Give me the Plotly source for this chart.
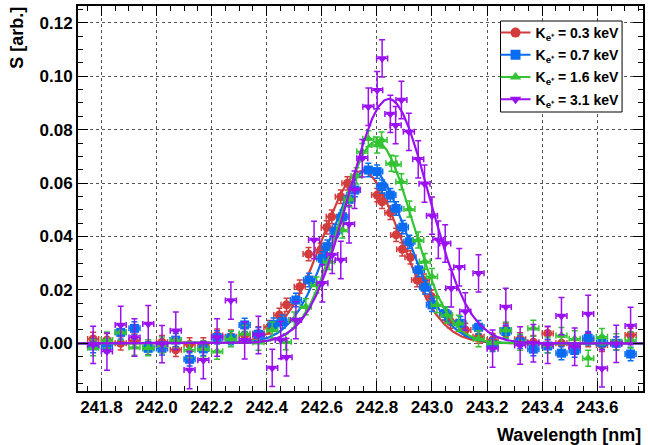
import numpy as np
import plotly.graph_objects as go

# ---------------- data ----------------
labels = ["K<sub>e⁺</sub> = 0.3 keV", "K<sub>e⁺</sub> = 0.7 keV",
          "K<sub>e⁺</sub> = 1.6 keV", "K<sub>e⁺</sub> = 3.1 keV"]

red_x = [241.77, 241.82, 241.87, 241.92, 241.97, 242.02, 242.07, 242.12, 242.17, 242.22,
         242.27, 242.32, 242.37, 242.41, 242.446, 242.472, 242.52, 242.552, 242.596, 242.618,
         242.636, 242.669, 242.693, 242.801, 242.819, 242.849, 242.870, 242.892, 242.922, 242.946,
         242.970, 242.998, 243.048, 243.067, 243.121, 243.169, 243.22, 243.268, 243.32, 243.368,
         243.42, 243.47, 243.518, 243.567, 243.617, 243.669, 243.721]
red_y = [0.0016, 0.0012, 0.0000, 0.0010, -0.0017, 0.0004, -0.0024, -0.0004, -0.0004, 0.0029,
         0.0025, 0.0030, 0.0037, 0.0060, 0.0106, 0.0144, 0.0212, 0.0334, 0.0350, 0.0434,
         0.0474, 0.0549, 0.0599, 0.0555, 0.0530, 0.0489, 0.0406, 0.0352, 0.0322, 0.0237,
         0.0235, 0.0175, 0.0112, 0.0081, 0.0050, 0.0025, 0.0012, 0.0050, 0.0015, 0.0004,
         0.0037, 0.0000, -0.0010, 0.0012, -0.0006, 0.0000, 0.0031]

blue_x = [241.77, 241.82, 241.87, 241.92, 241.97, 242.02, 242.07, 242.12, 242.17, 242.22,
          242.27, 242.32, 242.37, 242.425, 242.458, 242.506, 242.554, 242.602, 242.620, 242.650,
          242.675, 242.699, 242.720, 242.769, 242.801, 242.819, 242.849, 242.870, 242.894, 242.918,
          242.952, 242.975, 243.000, 243.048, 243.103, 243.169, 243.22, 243.268, 243.32, 243.368,
          243.42, 243.47, 243.518, 243.567, 243.617, 243.669, 243.721]
blue_y = [-0.0010, -0.0010, 0.0041, 0.0056, -0.0019, -0.0019, 0.0012, -0.0060, -0.0021, 0.0022,
          0.0020, 0.0069, 0.0034, 0.0070, 0.0081, 0.0162, 0.0237, 0.0318, 0.0362, 0.0420,
          0.0474, 0.0539, 0.0574, 0.0649, 0.0643, 0.0587, 0.0555, 0.0505, 0.0435, 0.0380,
          0.0275, 0.0210, 0.0144, 0.0112, 0.0075, 0.0060, -0.0006, 0.0044, 0.0006, -0.0022,
          -0.0010, -0.0037, -0.0027, 0.0019, 0.0002, 0.0000, -0.0040]

green_x = [241.77, 241.82, 241.87, 241.92, 241.97, 242.02, 242.07, 242.12, 242.17, 242.22,
           242.27, 242.32, 242.37, 242.42, 242.469, 242.500, 242.542, 242.581, 242.626, 242.675,
           242.701, 242.726, 242.747, 242.769, 242.801, 242.817, 242.853, 242.868, 242.889, 242.918,
           242.950, 242.974, 243.000, 243.018, 243.054, 243.097, 243.169, 243.22, 243.268, 243.32,
           243.368, 243.42, 243.47, 243.518, 243.567, 243.617, 243.669, 243.721]
green_y = [-0.0017, 0.0012, 0.0041, -0.0015, -0.0017, -0.0006, 0.0012, -0.0024, -0.0020, -0.0030,
           0.0017, 0.0037, 0.0004, 0.0050, 0.0006, 0.0087, 0.0137, 0.0218, 0.0306, 0.0424,
           0.0540, 0.0627, 0.0718, 0.0766, 0.0743, 0.0761, 0.0674, 0.0671, 0.0605, 0.0503,
           0.0387, 0.0306, 0.0250, 0.0144, 0.0106, 0.0075, 0.0017, 0.0002, 0.0050, 0.0004,
           0.0056, -0.0006, 0.0029, 0.0017, -0.0056, 0.0025, 0.0006, 0.0012]

purple_x = [241.77, 241.82, 241.87, 241.92, 241.97, 242.02, 242.07, 242.12, 242.17, 242.22,
            242.27, 242.32, 242.37, 242.42, 242.451, 242.472, 242.506, 242.572, 242.602, 242.638,
            242.669, 242.699, 242.719, 242.747, 242.769, 242.801, 242.819, 242.849, 242.868, 242.889,
            242.916, 242.950, 242.973, 243.000, 243.023, 243.048, 243.070, 243.099, 243.121, 243.169,
            243.220, 243.268, 243.320, 243.368, 243.420, 243.470, 243.518, 243.567, 243.617, 243.669,
            243.721]
purple_y = [-0.0006, -0.0031, 0.0069, 0.0022, 0.0072, -0.0003, 0.0047, -0.0100, -0.0063, 0.0022,
            0.0160, 0.0011, 0.0031, -0.0092, 0.0012, -0.0052, 0.0087, 0.0387, 0.0225, 0.0331,
            0.0312, 0.0446, 0.0575, 0.0693, 0.0886, 0.0948, 0.1067, 0.0859, 0.0817, 0.0911,
            0.0792, 0.0689, 0.0598, 0.0478, 0.0388, 0.0374, 0.0206, 0.0285, 0.0119, 0.0262,
            -0.0020, 0.0136, -0.0008, 0.0000, -0.0006, 0.0102, -0.0013, 0.0110, -0.0094, -0.0002,
            0.0065]

# vertical errors (per series), horizontal half-width
y_errors = [0.0025, 0.0025, 0.003, 0.007]
x_halfwidth = 0.02

# Gaussian fit parameters: amplitude, mean, sigma
fit_amp = [0.0645, 0.0655, 0.0755, 0.0915]
fit_mean = [242.745, 242.772, 242.797, 242.843]
fit_sigma = [0.143, 0.140, 0.132, 0.146]

# ---------------- style ----------------
colors = ["#d23c3c", "#0a6cf2", "#33c333", "#9a10f0"]
symbols = ["circle", "square", "triangle-up", "triangle-down"]
xs = [red_x, blue_x, green_x, purple_x]
ys = [red_y, blue_y, green_y, purple_y]

X_RANGE = [241.715, 243.766]
Y_RANGE = [-0.01786, 0.12632]

# plot-area pixel geometry (for placing annotations / legend box)
L, R, T, B = 78, 645, 6, 391
PW, PH = R - L, B - T


def px_x(p):
    return (p - L) / PW


def px_y(p):
    return 1 - (p - T) / PH


fig = go.Figure()
xf = np.linspace(X_RANGE[0], X_RANGE[1], 600)
for i in range(4):
    fig.add_trace(go.Scatter(
        x=xs[i], y=ys[i], mode="markers", showlegend=False,
        marker=dict(symbol=symbols[i], size=9, color=colors[i]),
        error_x=dict(type="constant", value=x_halfwidth, width=3, thickness=1.5, color=colors[i]),
        error_y=dict(type="constant", value=y_errors[i], width=3, thickness=1.5, color=colors[i]),
    ))
    yf = fit_amp[i] * np.exp(-0.5 * ((xf - fit_mean[i]) / fit_sigma[i]) ** 2)
    fig.add_trace(go.Scatter(x=xf, y=yf, mode="lines", showlegend=False,
                             line=dict(color=colors[i], width=2.2)))

for i in range(4):
    fig.add_trace(go.Scatter(
        x=[None], y=[None], mode="lines+markers", name=labels[i], legendgroup=f"g{i}",
        marker=dict(symbol=symbols[i], size=10, color=colors[i]),
        line=dict(color=colors[i], width=2),
    ))

font_family = "Liberation Sans, Arial, Helvetica, sans-serif"
axis_common = dict(
    showline=True, linecolor="black", linewidth=2, mirror="allticks",
    ticks="inside", ticklen=10, tickwidth=1, tickcolor="black",
    showgrid=True, gridcolor="#555555", griddash="dot", gridwidth=1,
    zeroline=False,
    tickfont=dict(family=font_family, size=17, color="black", weight="bold"),
)

fig.update_layout(
    width=648, height=445,
    margin=dict(l=L, r=648 - R, t=T, b=445 - B),
    paper_bgcolor="white", plot_bgcolor="white",
    font=dict(family=font_family, color="black"),
    xaxis=dict(range=X_RANGE, tick0=241.8, dtick=0.2, tickformat=".1f",
               minor=dict(ticks="inside", ticklen=5, dtick=0.05, tick0=241.8, tickcolor="black"),
               **axis_common),
    yaxis=dict(range=Y_RANGE, tick0=0, dtick=0.02, tickformat=".2f",
               minor=dict(ticks="inside", ticklen=5, dtick=0.005, tick0=0, tickcolor="black"),
               **axis_common),
    legend=dict(
        x=px_x(497), xanchor="left", y=px_y(17), yanchor="top",
        bgcolor="rgba(0,0,0,0)", borderwidth=0,
        font=dict(family=font_family, size=14, color="black", weight="bold"),
        tracegroupgap=1, itemwidth=30,
    ),
    shapes=[
        dict(type="rect", xref="paper", yref="paper",
             x0=px_x(502), x1=px_x(624), y0=px_y(112), y1=px_y(21),
             fillcolor="white", line=dict(color="black", width=1), layer="above"),
    ],
    annotations=[
        dict(text="S [arb.]", x=px_x(16.5), y=px_y(5), xref="paper", yref="paper",
             xanchor="center", yanchor="top", textangle=-90, showarrow=False,
             font=dict(family=font_family, size=18, color="black", weight="bold")),
        dict(text="Wavelength [nm]", x=1, y=px_y(435), xref="paper", yref="paper",
             xanchor="right", yanchor="middle", showarrow=False,
             font=dict(family=font_family, size=18, color="black", weight="bold")),
    ],
)

fig.write_html("out.html")
